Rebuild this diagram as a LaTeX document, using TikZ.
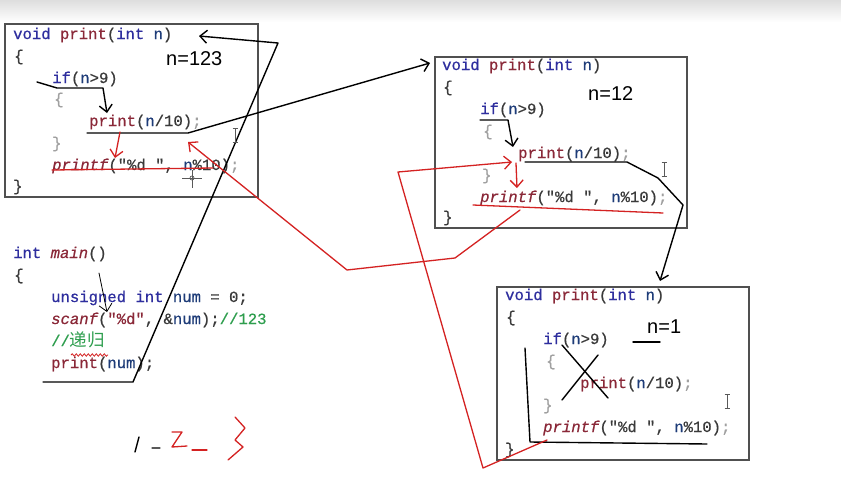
\documentclass[tikz,border=0pt]{standalone}
\usepackage{fontspec}
\usepackage{xcolor}
\newfontfamily\codefont[FakeBold=0.6]{Liberation Mono}
\newfontfamily\notefont{Liberation Sans}
\newfontfamily\cjkfont{Noto Sans CJK SC}
\definecolor{kwblue}{HTML}{2E2E9E}
\definecolor{fnred}{HTML}{8A2838}
\definecolor{varblue}{HTML}{1E3C78}
\definecolor{punct}{HTML}{3A3A3A}
\definecolor{bracegray}{HTML}{A0A0A0}
\definecolor{comgreen}{HTML}{2E9E4E}
\definecolor{inkred}{HTML}{D42222}
\definecolor{framegray}{HTML}{505050}
\usetikzlibrary{arrows.meta, decorations.pathmorphing}

\newcommand\ckw[1]{\textcolor{kwblue}{#1}}
\newcommand\cfn[1]{\textcolor{fnred}{#1}}
\newcommand\cfi[1]{\textcolor{fnred}{\itshape #1}}
\newcommand\cvar[1]{\textcolor{varblue}{#1}}
\newcommand\cgr[1]{\textcolor{bracegray}{#1}}
\newcommand\ccom[1]{\textcolor{comgreen}{#1}}

\begin{document}
\begin{tikzpicture}[x=1pt, y=-1pt,
  code/.style={anchor=base west, inner sep=0pt, text=punct,
    font=\codefont\fontsize{15.6}{18}\selectfont},
  note/.style={anchor=base west, inner sep=0pt,
    font=\notefont\fontsize{20}{24}\selectfont},
  box/.style={draw=framegray, line width=1.1pt},
  pen/.style={line width=1.4pt, line join=round, line cap=round},
  redpen/.style={pen, draw=inkred, line width=1.3pt},
  tip/.style={-{Straight Barb[length=7pt, width=13pt]}},
  cursor/.style={draw=black!65, line width=0.7pt}]

  \useasboundingbox (0,0) rectangle (841,501);
  \fill[white] (0,0) rectangle (841,501);
  \shade[top color=black!13, bottom color=white] (0,0) rectangle (841,22);

  % first call, n=123
  \draw[box] (5,24) rectangle (258,197);
  \node[code] (a0) at (13,39)    {\ckw{void} \cfn{print}(\ckw{int} \cvar{n})};
  \node[code] (a1) at (14,61)    {\{};
  \node[code] (a2) at (52,83)    {\ckw{if}(\cvar{n}>9)};
  \node[code] (a3) at (54,104)   {\cgr{\{}};
  \node[code] (a4) at (89,126)   {\cfn{print}(\cvar{n}/10)\cgr{;}};
  \node[code] (a5) at (52,148)   {\cgr{\}}};
  \node[code] (a6) at (52,170)   {\cfi{printf}("\%d ", \cvar{n}\%10)\cgr{;}};
  \node[code] (a7) at (13,191)   {\}};
  \node[note] (na) at (166,65)   {n=123};

  % second call, n=12
  \draw[box] (435,57) rectangle (687,228);
  \node[code] (b0) at (442,70)   {\ckw{void} \cfn{print}(\ckw{int} \cvar{n})};
  \node[code] (b1) at (443,92)   {\{};
  \node[code] (b2) at (480,114)  {\ckw{if}(\cvar{n}>9)};
  \node[code] (b3) at (483,136)  {\cgr{\{}};
  \node[code] (b4) at (518,158)  {\cfn{print}(\cvar{n}/10)\cgr{;}};
  \node[code] (b5) at (482,180)  {\cgr{\}}};
  \node[code] (b6) at (480,202)  {\cfi{printf}("\%d ", \cvar{n}\%10)\cgr{;}};
  \node[code] (b7) at (443,222)  {\}};
  \node[note] (nb) at (588,100)  {n=12};

  % third call, n=1
  \draw[box] (497,287) rectangle (749,460);
  \node[code] (c0) at (505,300)  {\ckw{void} \cfn{print}(\ckw{int} \cvar{n})};
  \node[code] (c1) at (506,322)  {\{};
  \node[code] (c2) at (543,344)  {\ckw{if}(\cvar{n}>9)};
  \node[code] (c3) at (546,366)  {\cgr{\{}};
  \node[code] (c4) at (580,388)  {\cfn{print}(\cvar{n}/10)\cgr{;}};
  \node[code] (c5) at (543,410)  {\cgr{\}}};
  \node[code] (c6) at (543,432)  {\cfi{printf}("\%d ", \cvar{n}\%10)\cgr{;}};
  \node[code] (c7) at (505,454)  {\}};
  \node[note] (nc) at (647,333)  {n=1};

  % main
  \node[code] (m0) at (13,258)   {\ckw{int} \cfi{main}()};
  \node[code] (m1) at (14,280)   {\{};
  \node[code] (m2) at (51,302)   {\ckw{unsigned} \ckw{int} \cvar{num} = 0;};
  \node[code] (m3) at (51,324)   {\cfi{scanf}(\cfn{"\%d"}, \&\cvar{num});\ccom{//123}};
  \node[code] (m4) at (51,346)   {\ccom{//{\cjkfont\fontsize{17.5}{18}\selectfont 递归}}};
  \node[code] (m5) at (51,368)   {\cfn{print}(\cvar{num});};

  % hand-drawn points
  \coordinate (mainA) at (43,382);   \coordinate (mainB) at (133,382);
  \coordinate (mainC) at (278,43);   \coordinate (mainD) at (199,36);
  \coordinate (scanA) at (99,273);   \coordinate (scanB) at (107,312);
  \coordinate (ifA1) at (37,82);     \coordinate (ifA2) at (57,88);
  \coordinate (ifA3) at (103,88);    \coordinate (ifA4) at (107,113);
  \coordinate (recA1) at (87,133);   \coordinate (recA2) at (188,133);
  \coordinate (recA3) at (430,63);
  \coordinate (ifB1) at (480,120);   \coordinate (ifB2) at (508,120);
  \coordinate (ifB3) at (513,147);
  \coordinate (recB1) at (525,162);  \coordinate (recB2) at (627,162);
  \coordinate (recB3) at (658,178);  \coordinate (recB4) at (683,205);
  \coordinate (recB5) at (660,281);
  \coordinate (retC1) at (547,440);  \coordinate (retC2) at (483,468);
  \coordinate (retC3) at (398,172);  \coordinate (retC4) at (512,162);
  \coordinate (retB1) at (520,210);  \coordinate (retB2) at (455,258);
  \coordinate (retB3) at (347,270);  \coordinate (retB4) at (188,142);

  % black strokes
  \draw[pen, tip] (mainA) -- (mainB) -- (mainC) -- (mainD);
  \draw[pen, line width=0.8pt, tip] (scanA) -- (scanB);
  \draw[pen, tip] (ifA1) -- (ifA2) -- (ifA3) -- (ifA4);
  \draw[pen, tip] (recA1) -- (recA2) -- (recA3);
  \draw[pen, tip] (ifB1) -- (ifB2) -- (ifB3);
  \draw[pen, tip] (recB1) -- (recB2) -- (recB3) -- (recB4) -- (recB5);
  \draw[pen] (562,345) -- (608,398) (598,355) -- (562,400);
  \draw[pen] (525,348) -- (530,442) -- (707,444);
  \draw[pen] (633,342) -- (660,342);
  \draw[pen] (135,452) -- (139,437) (152,448) -- (160,448);

  % red strokes
  \draw[redpen, tip] (120,132) -- (115,158);
  \draw[redpen] (52,170) -- (213,168);
  \draw[redpen, tip] (retC1) -- (retC2) -- (retC3) -- (retC4);
  \draw[redpen, tip] (516,163) -- (517,188);
  \draw[redpen] (473,205) -- (663,213);
  \draw[redpen, tip] (retB1) -- (retB2) -- (retB3) -- (retB4);
  \draw[redpen] (172,432) -- (182,432) -- (172,447) -- (187,446);
  \draw[redpen] (192,450) -- (207,450);
  \draw[redpen] (235,417) -- (245,428) -- (235,440) -- (243,447) -- (228,460);
  \draw[draw=inkred, line width=0.8pt,
    decorate, decoration={snake, amplitude=1.2pt, segment length=4pt}]
    (71,355) -- (108,355);

  % mouse cursors
  \foreach \cx/\cy in {235/128, 664/162, 727/394}
    \draw[cursor] (\cx,\cy) -- ++(0,14)
      (\cx-2.5,\cy) -- ++(5,0) (\cx-2.5,\cy+14) -- ++(5,0);
  \draw[cursor] (182,178) -- (202,178) (192,170) -- (192,188);
  \draw[cursor] (192,178) circle (2pt);
\end{tikzpicture}
\end{document}
